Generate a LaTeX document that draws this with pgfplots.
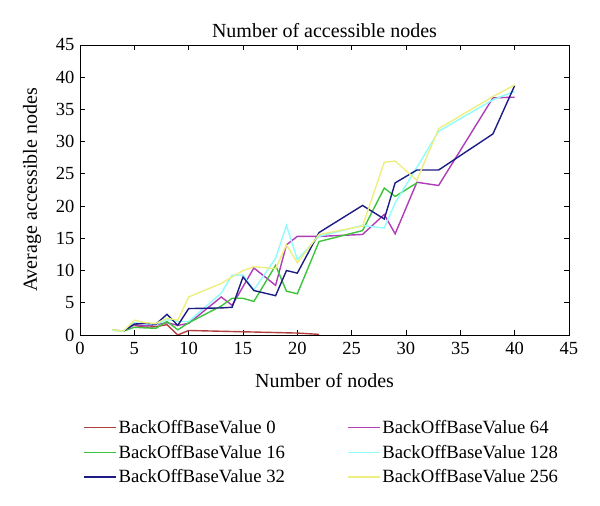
\documentclass[border=0pt]{standalone}
\usepackage{pgfplots}
\pgfplotsset{compat=1.18}
\usepackage{fontspec}
\setmainfont{Liberation Serif}
\definecolor{cRed}{HTML}{B04040}
\definecolor{cGreen}{HTML}{3CC43C}
\definecolor{cNavy}{HTML}{1C1C84}
\definecolor{cMag}{HTML}{B03CB8}
\definecolor{cCyan}{HTML}{90FCFC}
\definecolor{cYel}{HTML}{EEEE80}
\begin{document}
\begin{tikzpicture}
\path[use as bounding box] (0,0) rectangle (600pt,506pt);
\begin{axis}[
  at={(80pt,171pt)}, anchor=south west,
  width=489pt, height=290pt, scale only axis,
  xmin=0, xmax=45, ymin=0, ymax=45,
  xtick={0,5,...,45}, ytick={0,5,...,45},
  tick align=inside, major tick length=5pt,
  tick style={black, line width=0.9pt},
  axis line style={black, line width=0.9pt},
  /pgf/number format/assume math mode=true,
  tick label style={font=\fontsize{18.5}{20}\selectfont},
  xticklabel style={yshift=-4pt},
  yticklabel style={xshift=-2pt},
  title={Number of accessible nodes},
  title style={font=\fontsize{20}{22}\selectfont, yshift=-2pt},
  xlabel={Number of nodes},
  ylabel={Average accessible nodes},
  label style={font=\fontsize{20}{22}\selectfont},
  xlabel style={yshift=-12pt},
  ylabel style={yshift=8pt},
  legend columns=2,
  legend cell align=left,
  legend style={draw=none, fill=none, at={(0,-0.28)}, anchor=north west,
    font=\fontsize{18.7}{21}\selectfont,
    /tikz/every even column/.append style={column sep=60pt},
    row sep=6pt},
  legend image code/.code={\draw[#1] (0pt,0pt) -- (32pt,0pt);},
  every axis plot/.append style={line width=1.4pt},
]
\addplot[cRed] coordinates {(5,1.5)(6,1.2)(7,1.3)(8,1.6)(9,0.0)(10,0.7)(15,0.5)(20,0.3)(22,0.1)};
\addlegendentry{BackOffBaseValue 0}
\addplot[cMag] coordinates {(4,0.6)(5,1.6)(6,1.4)(7,1.6)(8,1.9)(9,1.5)(10,1.8)(13,5.9)(14,4.6)(16,10.4)(18,7.7)(19,14.0)(20,15.3)(22,15.3)(26,15.6)(28,18.7)(29,15.7)(31,23.7)(33,23.2)(38,36.8)(40,36.9)};
\addlegendentry{BackOffBaseValue 64}
\addplot[cGreen] coordinates {(3,0.8)(4,0.6)(5,1.2)(6,1.1)(7,1.05)(8,2.1)(9,0.8)(10,1.9)(13,4.5)(14,5.7)(15,5.7)(16,5.2)(18,10.8)(19,6.8)(20,6.4)(22,14.5)(26,16.2)(28,22.8)(29,21.5)(31,23.6)};
\addlegendentry{BackOffBaseValue 16}
\addplot[cCyan] coordinates {(3,0.7)(4,0.6)(5,1.9)(6,1.7)(7,1.6)(8,2.4)(9,2.1)(10,2.1)(13,6.5)(14,9.3)(15,9.3)(16,7.0)(18,11.9)(19,17.0)(20,11.7)(22,15.3)(26,17.0)(28,16.6)(29,20.5)(31,26.0)(33,31.6)(38,36.5)(40,37.8)};
\addlegendentry{BackOffBaseValue 128}
\addplot[cNavy] coordinates {(4,0.6)(5,1.7)(6,1.8)(7,1.7)(8,3.2)(9,1.5)(10,4.1)(13,4.2)(14,4.3)(15,9.0)(16,6.9)(18,6.1)(19,10.0)(20,9.6)(22,15.9)(26,20.1)(28,18.0)(29,23.6)(31,25.6)(33,25.6)(38,31.2)(40,38.7)};
\addlegendentry{BackOffBaseValue 32}
\addplot[cYel] coordinates {(3,0.8)(4,0.6)(5,2.3)(6,1.9)(7,1.8)(8,2.6)(9,2.3)(10,5.9)(13,8.0)(14,9.0)(15,10.0)(16,10.6)(18,10.3)(19,14.0)(20,11.2)(22,15.6)(26,16.9)(28,26.8)(29,27.0)(31,24.0)(33,32.0)(38,37.0)(40,38.8)};
\addlegendentry{BackOffBaseValue 256}
\end{axis}
\end{tikzpicture}
\end{document}
